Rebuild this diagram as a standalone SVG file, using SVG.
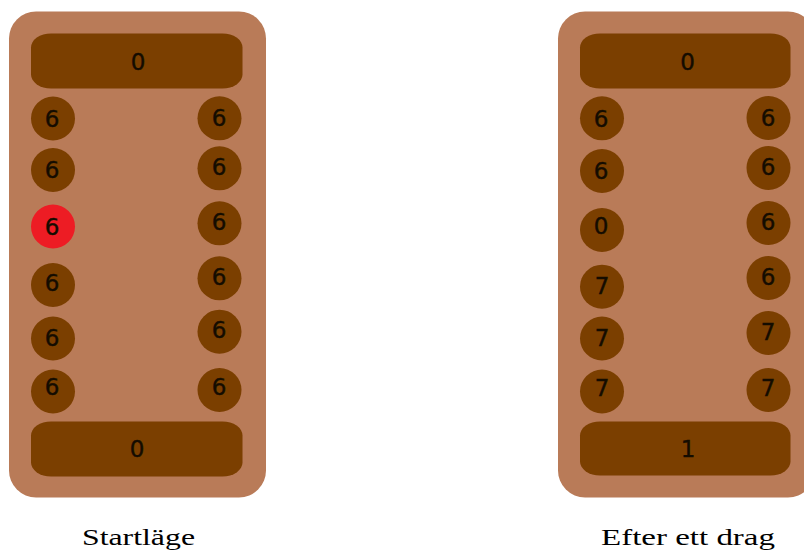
<svg xmlns="http://www.w3.org/2000/svg" width="804" height="554" viewBox="0 0 804 554">
<style>
.board{fill:#B97B58}
.store{fill:#7B3F00}
.pit{fill:#7B3F00}
.hot{fill:#ED1C24}
.num{font-family:"DejaVu Sans",Verdana,sans-serif;font-size:23px;fill:#140c00;stroke:#140c00;stroke-width:0.4;text-anchor:middle}
.cap{font-family:"Liberation Serif","Times New Roman",serif;font-size:24px;fill:#000;text-anchor:middle}
</style>
<rect width="804" height="554" fill="#ffffff"/>
<g id="connectors"/>
<g id="board-start">
<rect class="board" x="9" y="11.5" width="257" height="486" rx="27" ry="27"/>
<g id="start-store-top"><rect class="store" x="31" y="33.5" width="211.5" height="55" rx="20" ry="14"/><text class="num" x="138" y="70">0</text></g>
<g id="start-store-bottom"><rect class="store" x="31" y="421.5" width="211.5" height="55" rx="20" ry="14"/><text class="num" x="137" y="457">0</text></g>
<g id="start-L1"><circle class="pit" cx="53" cy="118.5" r="22"/><text class="num" x="52" y="126.5">6</text></g>
<g id="start-L2"><circle class="pit" cx="53" cy="170" r="22"/><text class="num" x="52" y="178">6</text></g>
<g id="start-L3"><circle class="hot" cx="53" cy="226.5" r="22"/><text class="num" x="52" y="234.5">6</text></g>
<g id="start-L4"><circle class="pit" cx="53" cy="285" r="22"/><text class="num" x="52" y="291">6</text></g>
<g id="start-L5"><circle class="pit" cx="53" cy="338.5" r="22"/><text class="num" x="52" y="345.5">6</text></g>
<g id="start-L6"><circle class="pit" cx="53" cy="391.5" r="22"/><text class="num" x="52" y="395">6</text></g>
<g id="start-R1"><circle class="pit" cx="219.5" cy="118.3" r="22"/><text class="num" x="219" y="126">6</text></g>
<g id="start-R2"><circle class="pit" cx="219.5" cy="168.3" r="22"/><text class="num" x="219" y="175">6</text></g>
<g id="start-R3"><circle class="pit" cx="219.5" cy="223.3" r="22"/><text class="num" x="219" y="230">6</text></g>
<g id="start-R4"><circle class="pit" cx="219.5" cy="278.3" r="22"/><text class="num" x="219" y="285">6</text></g>
<g id="start-R5"><circle class="pit" cx="219.5" cy="331.7" r="22"/><text class="num" x="219" y="338">6</text></g>
<g id="start-R6"><circle class="pit" cx="219.5" cy="390" r="22"/><text class="num" x="219" y="395">6</text></g>
</g>
<g id="board-after">
<rect class="board" x="558" y="11.5" width="257" height="486" rx="27" ry="27"/>
<g id="after-store-top"><rect class="store" x="580" y="33.5" width="210.5" height="55" rx="20" ry="14"/><text class="num" x="687.5" y="70">0</text></g>
<g id="after-store-bottom"><rect class="store" x="580" y="421.5" width="210.5" height="54" rx="20" ry="14"/><text class="num" x="688" y="457">1</text></g>
<g id="after-L1"><circle class="pit" cx="602" cy="118.3" r="22"/><text class="num" x="601" y="126.5">6</text></g>
<g id="after-L2"><circle class="pit" cx="602" cy="171" r="22"/><text class="num" x="601" y="179">6</text></g>
<g id="after-L3"><circle class="pit" cx="602" cy="230" r="22"/><text class="num" x="601" y="234">0</text></g>
<g id="after-L4"><circle class="pit" cx="602" cy="286.7" r="22"/><text class="num" x="602" y="294">7</text></g>
<g id="after-L5"><circle class="pit" cx="602" cy="338.5" r="22"/><text class="num" x="602" y="346">7</text></g>
<g id="after-L6"><circle class="pit" cx="602" cy="391.5" r="22"/><text class="num" x="602" y="396">7</text></g>
<g id="after-R1"><circle class="pit" cx="768.5" cy="118" r="22"/><text class="num" x="768" y="126">6</text></g>
<g id="after-R2"><circle class="pit" cx="768.5" cy="168" r="22"/><text class="num" x="768" y="175">6</text></g>
<g id="after-R3"><circle class="pit" cx="768.5" cy="223" r="22"/><text class="num" x="768" y="230">6</text></g>
<g id="after-R4"><circle class="pit" cx="768.5" cy="278" r="22"/><text class="num" x="768" y="285">6</text></g>
<g id="after-R5"><circle class="pit" cx="768.5" cy="333" r="22"/><text class="num" x="768" y="340">7</text></g>
<g id="after-R6"><circle class="pit" cx="768.5" cy="390" r="22"/><text class="num" x="768" y="396">7</text></g>
</g>
<g id="labels">
<text class="cap" x="138.5" y="545" textLength="113" lengthAdjust="spacingAndGlyphs">Startläge</text>
<text class="cap" x="688" y="545" textLength="174" lengthAdjust="spacingAndGlyphs">Efter ett drag</text>
</g>
</svg>
